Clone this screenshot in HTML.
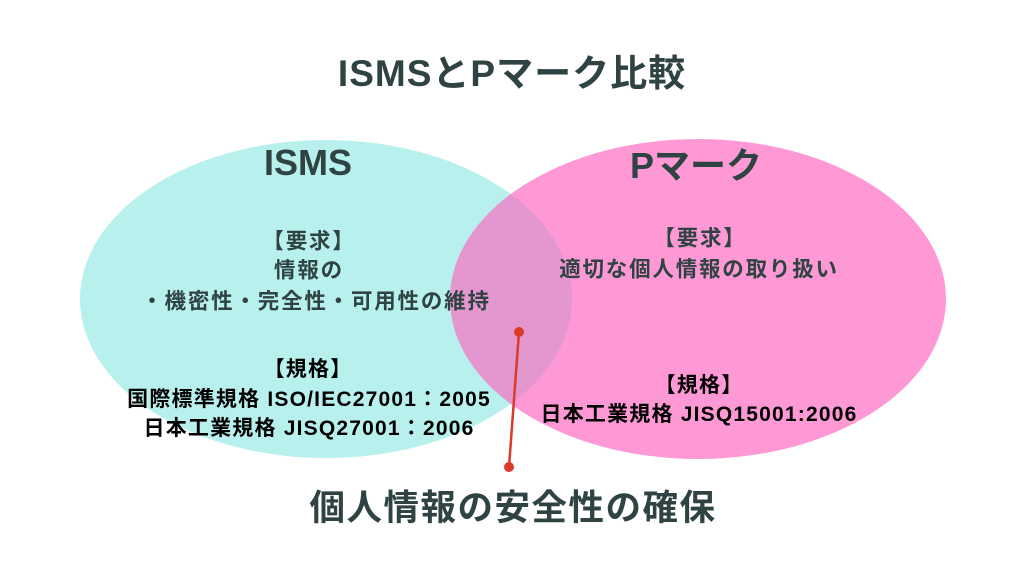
<!DOCTYPE html>
<html><head><meta charset="utf-8"><style>
html,body{margin:0;padding:0;background:#fff;}
body{width:1024px;height:576px;overflow:hidden;position:relative;font-family:"Liberation Sans","Noto Sans CJK JP",sans-serif;}
svg{position:absolute;left:0;top:0;}
.t{position:absolute;transform:translate(-50%,-50%);white-space:nowrap;font-weight:bold;text-align:center;}
.r{font-size:21.5px;letter-spacing:1.8px;color:#2f4343;}
.s{font-size:21px;letter-spacing:1.2px;color:#000;}
</style></head><body>
<svg width="1024" height="576">
<ellipse cx="326" cy="299" rx="246" ry="159" fill="#b8f0ee"/>
<ellipse cx="698" cy="299" rx="248" ry="160" fill="#ff99d6"/>
<clipPath id="c"><ellipse cx="326" cy="299" rx="246" ry="159"/></clipPath>
<ellipse cx="698" cy="299" rx="248" ry="160" fill="#e497cf" clip-path="url(#c)"/>
<line x1="519" y1="332" x2="509" y2="467" stroke="#d93a2a" stroke-width="2.5"/>
<circle cx="519" cy="332" r="5" fill="#d93a2a"/>
<circle cx="509" cy="467" r="5" fill="#d93a2a"/>
</svg>
<div class="t" style="left:512px;top:70px;font-size:37px;letter-spacing:1px;color:#2f4343;">ISMSとPマーク比較</div>
<div class="t" style="left:308px;top:163px;font-size:36px;color:#2f4343;">ISMS</div>
<div class="t" style="left:696px;top:163px;font-size:36px;color:#2f4343;">Pマーク</div>
<div class="t r" style="left:309px;top:240px;">【要求】</div>
<div class="t r" style="left:309px;top:269px;">情報の</div>
<div class="t r" style="left:316px;top:300px;">・機密性・完全性・可用性の維持</div>
<div class="t s" style="left:308px;top:368px;">【規格】</div>
<div class="t s" style="left:309px;top:398px;">国際標準規格 ISO/IEC27001：2005</div>
<div class="t s" style="left:309px;top:427px;">日本工業規格 JISQ27001：2006</div>
<div class="t r" style="left:700px;top:237px;">【要求】</div>
<div class="t r" style="left:699px;top:268px;">適切な個人情報の取り扱い</div>
<div class="t s" style="left:699px;top:384px;">【規格】</div>
<div class="t s" style="left:699px;top:413px;">日本工業規格 JISQ15001:2006</div>
<div class="t" style="left:513px;top:505px;font-size:35.5px;letter-spacing:1.5px;color:#2f4343;">個人情報の安全性の確保</div>
</body></html>
